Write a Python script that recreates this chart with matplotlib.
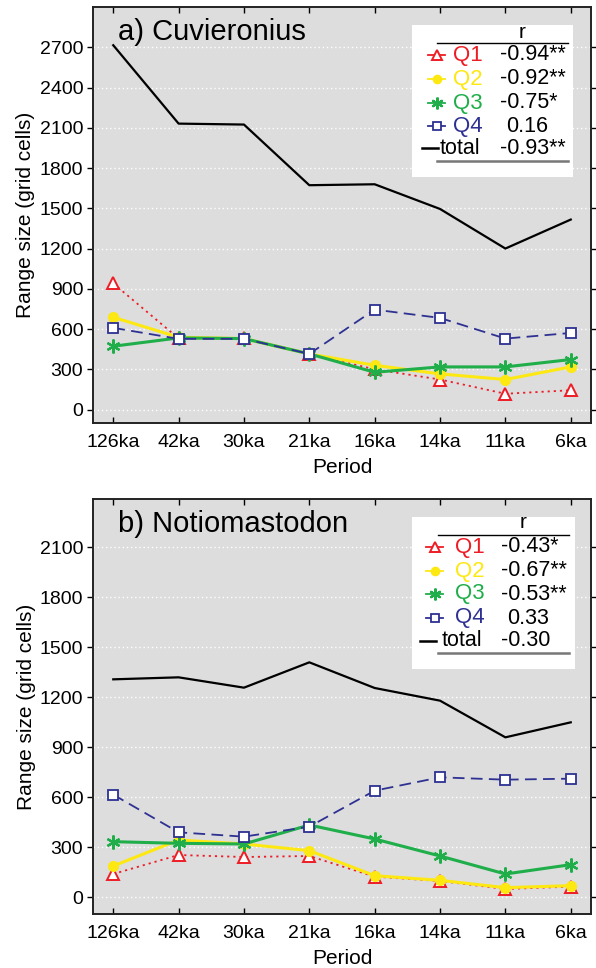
import matplotlib
matplotlib.use("Agg")
import matplotlib.pyplot as plt
from matplotlib.lines import Line2D
from matplotlib.patches import Rectangle

plt.rcParams['font.family'] = ['Liberation Sans', 'DejaVu Sans']

periods = ["126ka", "42ka", "30ka", "21ka", "16ka", "14ka", "11ka", "6ka"]

# Panel a) Cuvieronius
a_q1 = [940, 530, 530, 415, 300, 224, 118, 144]
a_q2 = [688, 539, 529, 415, 330, 266, 224, 318]
a_q3 = [472, 534, 529, 415, 278, 318, 318, 373]
a_q4 = [609, 527, 527, 415, 745, 683, 529, 571]
a_total = [2715, 2131, 2124, 1672, 1679, 1495, 1200, 1416]
a_r = ["-0.94**", "-0.92**", "-0.75*", "0.16", "-0.93**"]
a_title = "a) Cuvieronius"
a_yticks = [0, 300, 600, 900, 1200, 1500, 1800, 2100, 2400, 2700]

# Panel b) Notiomastodon
b_q1 = [140, 254, 242, 248, 124, 98, 50, 64]
b_q2 = [188, 344, 320, 280, 130, 102, 58, 70]
b_q3 = [334, 324, 320, 434, 350, 248, 140, 196]
b_q4 = [616, 390, 364, 424, 640, 720, 706, 712]
b_total = [1308, 1320, 1258, 1410, 1256, 1180, 960, 1050]
b_r = ["-0.43*", "-0.67**", "-0.53**", "0.33", "-0.30"]
b_title = "b) Notiomastodon"
b_yticks = [0, 300, 600, 900, 1200, 1500, 1800, 2100]

series_names = ["Q1", "Q2", "Q3", "Q4", "total"]

RED = "#ee1c25"
YEL = "#fde812"
GRN = "#1fae4a"
BLU = "#2e3192"
BLK = "#000000"

styles = [
    dict(color=RED, ls=(0, (1.2, 2.2)), lw=1.3, marker="^", ms=8, mfc="white", mec=RED, mew=1.4),
    dict(color=YEL, ls="-", lw=2.2, marker="o", ms=7, mfc=YEL, mec=YEL, mew=1),
    dict(color=GRN, ls="-", lw=2.2, marker=(6, 2, 0), ms=10, mfc=GRN, mec=GRN, mew=1.6),
    dict(color=BLU, ls=(0, (6.5, 3.5)), lw=1.3, marker="s", ms=7, mfc="white", mec=BLU, mew=1.3),
    dict(color=BLK, ls="-", lw=1.6, marker=None),
]
text_colors = [RED, YEL, GRN, BLU, BLK]

W, H = 596, 968
fig = plt.figure(figsize=(W / 100, H / 100), dpi=100)


def fx(px):
    return px / W


def fy(py):
    return 1 - py / H


def panel(rect, data, r_vals, title, yticks, ylim, leg):
    ax = fig.add_axes(rect)
    ax.set_facecolor("#dcdddc")
    x = list(range(len(periods)))
    for i, (ys, st) in enumerate(zip(data, styles)):
        ax.plot(x, ys, zorder=3 + i, **st)
    ax.set_xlim(-0.31, 7.31)
    ax.set_ylim(*ylim)
    ax.set_xticks(x)
    ax.set_xticklabels(periods, fontsize=14)
    ax.set_yticks(yticks)
    ax.set_yticklabels([str(t) for t in yticks], fontsize=14)
    ax.yaxis.grid(True, color="white", ls=(0, (1, 2)), lw=1.0)
    ax.set_axisbelow(True)
    ax.tick_params(axis="x", direction="in", top=True, bottom=True, length=4, width=1, pad=8)
    ax.tick_params(axis="y", direction="out", left=True, right=True, length=4, width=1, pad=3)
    for s in ax.spines.values():
        s.set_linewidth(1.4)
        s.set_color("#222222")
    ax.set_xlabel("Period", fontsize=15, labelpad=5)
    ax.set_ylabel("Range size (grid cells)", fontsize=15, labelpad=3)
    ax.text(0.05, 0.94, title, transform=ax.transAxes, fontsize=21, ha="left", va="center")

    # legend/table
    bx0, by0, bx1, by1 = leg["box"]
    fig.patches.append(Rectangle((fx(bx0), fy(by1)), fx(bx1) - fx(bx0), fy(by0) - fy(by1),
                                 transform=fig.transFigure, facecolor="white", edgecolor="none", zorder=5))
    fig.text(fx(leg["rx"]), fy(leg["ry"]), "r", fontsize=15, ha="center", va="center", zorder=7)
    lx0, lx1 = leg["line"]
    fig.lines.append(Line2D([fx(lx0), fx(lx1)], [fy(leg["top"]), fy(leg["top"])],
                            transform=fig.transFigure, color="black", lw=1.0, zorder=6))
    fig.lines.append(Line2D([fx(lx0), fx(lx1)], [fy(leg["bot"]), fy(leg["bot"])],
                            transform=fig.transFigure, color="#777777", lw=1.8, zorder=6))
    for i, (name, rv, st, tc) in enumerate(zip(series_names, r_vals, styles, text_colors)):
        yy = leg["rows"][i]
        if name == "total":
            sx0, sx1 = leg["tline"]
            fig.lines.append(Line2D([fx(sx0), fx(sx1)], [fy(yy), fy(yy)], transform=fig.transFigure,
                                    color=BLK, lw=1.8, zorder=6))
            fig.text(fx(leg["tx"]), fy(yy), name, fontsize=15.5, color=tc, ha="left", va="center", zorder=7)
        else:
            sx0, sx1 = leg["sline"]
            fig.lines.append(Line2D([fx(sx0), fx(sx1)], [fy(yy), fy(yy)], transform=fig.transFigure,
                                    color=st["color"], lw=1.3, zorder=6))
            fig.lines.append(Line2D([fx((sx0 + sx1) / 2)], [fy(yy)], transform=fig.transFigure,
                                    marker=st["marker"], ms=st["ms"] * 0.85, mfc=st["mfc"], mec=st["mec"],
                                    mew=st["mew"], ls="none", zorder=6))
            fig.text(fx(leg["qx"]), fy(yy), name, fontsize=16, color=tc, ha="left", va="center", zorder=7)
        vx = leg["vx"] + (0 if rv.startswith("-") else 6)
        fig.text(fx(vx), fy(yy), rv, fontsize=15.5, color="black", ha="left", va="center", zorder=7)
    return ax


top_rect = [fx(93), fy(423), fx(591) - fx(93), fy(7) - fy(423)]
bot_rect = [fx(93), fy(914), fx(591) - fx(93), fy(499) - fy(914)]

leg_a = dict(box=(412, 25, 573, 177), rx=522, ry=33, line=(437, 568), top=43, bot=161,
             rows=[55, 79, 103, 126, 148], sline=(428, 445), qx=453, vx=500,
             tline=(422, 438), tx=440)
leg_b = dict(box=(412, 517, 575, 669), rx=523, ry=523, line=(438, 569), top=535, bot=653,
             rows=[547, 571, 594, 618, 641], sline=(426, 443), qx=455, vx=501,
             tline=(420, 436), tx=442)

panel(top_rect, [a_q1, a_q2, a_q3, a_q4, a_total], a_r, a_title, a_yticks, (-100, 3000), leg_a)
panel(bot_rect, [b_q1, b_q2, b_q3, b_q4, b_total], b_r, b_title, b_yticks, (-100, 2390), leg_b)

fig.savefig("out.png", dpi=100)
